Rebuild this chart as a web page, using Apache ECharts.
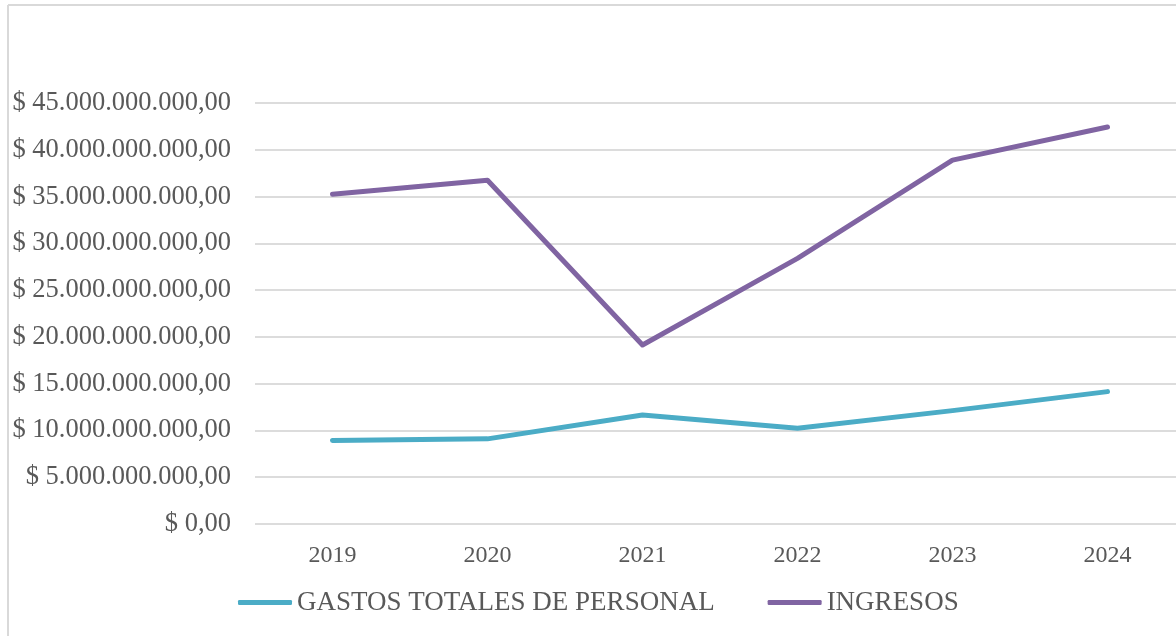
<!DOCTYPE html>
<html>
<head>
<meta charset="utf-8">
<script src="https://cdn.jsdelivr.net/npm/echarts@6/dist/echarts.min.js"></script>
<style>
  html, body { margin: 0; padding: 0; background: #fff; }
  #chart { width: 1176px; height: 636px; }
</style>
</head>
<body>
<div id="chart"></div>
<script>
const years = ['2019', '2020', '2021', '2022', '2023', '2024']
const gastosPersonal = [8.92e9, 9.10e9, 11.66e9, 10.24e9, 12.12e9, 14.15e9]
const ingresos = [35.25e9, 36.75e9, 19.13e9, 28.39e9, 38.89e9, 42.44e9]
const yTickLabels = [
  '$ 0,00', '$ 5.000.000.000,00', '$ 10.000.000.000,00', '$ 15.000.000.000,00',
  '$ 20.000.000.000,00', '$ 25.000.000.000,00', '$ 30.000.000.000,00',
  '$ 35.000.000.000,00', '$ 40.000.000.000,00', '$ 45.000.000.000,00'
]

const textColor = '#595959'
const fontFamily = '"Liberation Serif", "Times New Roman", serif'

const chart = echarts.init(document.getElementById('chart'))

chart.setOption({
  animation: false,
  textStyle: { fontFamily: fontFamily },
  graphic: [
    // outer chart border (clipped on right and bottom like the source)
    { type: 'line', shape: { x1: 8, y1: 5, x2: 1176, y2: 5 }, style: { stroke: '#d9d9d9', lineWidth: 2 } },
    { type: 'line', shape: { x1: 8, y1: 5, x2: 8, y2: 636 }, style: { stroke: '#d9d9d9', lineWidth: 2 } }
  ],
  grid: {
    left: 255,
    width: 930,
    top: 103,
    bottom: 112,
    containLabel: false,
    outerBoundsMode: 'none'
  },
  legend: {
    left: 233,
    top: 584,
    itemWidth: 54,
    itemHeight: 5,
    itemGap: 53,
    icon: 'roundRect',
    textStyle: { color: textColor, fontSize: 27, fontFamily: fontFamily },
    data: ['GASTOS TOTALES DE PERSONAL', 'INGRESOS']
  },
  xAxis: {
    type: 'category',
    data: years,
    boundaryGap: true,
    axisLine: { show: false },
    axisTick: { show: false },
    axisLabel: { color: textColor, fontSize: 24, margin: 20, fontFamily: fontFamily }
  },
  yAxis: {
    type: 'value',
    min: 0,
    max: 45e9,
    interval: 5e9,
    axisLine: { show: false },
    axisTick: { show: false },
    splitLine: { lineStyle: { color: '#dcdcdc', width: 2 } },
    axisLabel: {
      color: textColor,
      fontSize: 26.5,
      margin: 24,
      fontFamily: fontFamily,
      formatter: function (v) { return yTickLabels[Math.round(v / 5e9)] }
    }
  },
  series: [
    {
      name: 'GASTOS TOTALES DE PERSONAL',
      type: 'line',
      data: gastosPersonal,
      showSymbol: false,
      symbol: 'none',
      color: '#4BACC6',
      lineStyle: { width: 5, cap: 'round', join: 'round' }
    },
    {
      name: 'INGRESOS',
      type: 'line',
      data: ingresos,
      showSymbol: false,
      symbol: 'none',
      color: '#8064A2',
      lineStyle: { width: 5, cap: 'round', join: 'round' }
    }
  ]
})
</script>
</body>
</html>
